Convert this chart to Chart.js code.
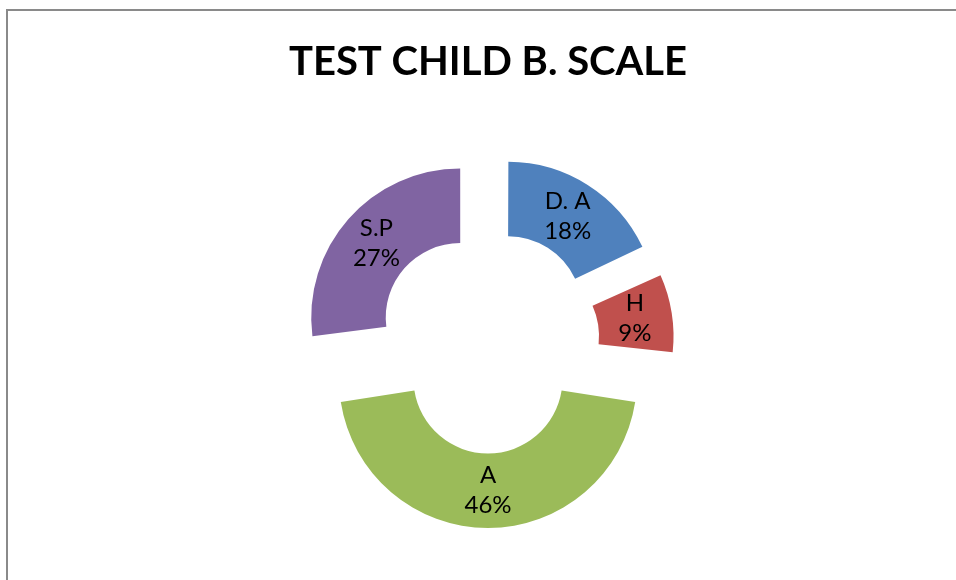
<!DOCTYPE html>
<html><head><meta charset="utf-8">
<script src="https://cdn.jsdelivr.net/npm/chart.js@4"></script>
<style>html,body{margin:0;padding:0;background:#fff;overflow:hidden;} #wrap{width:956px;height:580px;position:relative;}</style>
</head><body><div id="wrap"><canvas id="c" width="956" height="580"></canvas></div>
<script>
const titleText = 'TEST CHILD B. SCALE';
const categories = ['D. A', 'H', 'A', 'S.P'];
const percents = [18, 9, 46, 27];
const colors = ['#4F81BD', '#C0504D', '#9BBB59', '#8064A2'];
const EXPLODE = 148; // Chart.js arc offset option (actual shift = offset / 4)

const frame = {
  id: 'frame',
  beforeDraw(chart) {
    const c = chart.ctx;
    c.save();
    c.fillStyle = '#fff';
    c.fillRect(0, 0, chart.width, chart.height);
    c.strokeStyle = '#8a8a8a';
    c.lineWidth = 2;
    c.beginPath();
    c.moveTo(7, chart.height);
    c.lineTo(7, 10);
    c.lineTo(chart.width, 10);
    c.stroke();
    c.restore();
  }
};

// keep every exploded slice at the same radii (Chart.js enlarges narrow offset arcs)
const evenRadius = {
  id: 'evenRadius',
  afterDatasetUpdate(chart, args) {
    args.meta.data.forEach(arc => {
      const off = ((arc.options && arc.options.offset) || 0) / 4;
      const fix = 1 - Math.sin(Math.min(Math.PI, arc.circumference || 0));
      const ro = off * fix;
      arc.outerRadius -= ro;
      arc.innerRadius -= ro;
      arc.$ro = ro;
    });
  }
};

const sliceLabels = {
  id: 'sliceLabels',
  afterDatasetsDraw(chart) {
    const ctx = chart.ctx;
    const meta = chart.getDatasetMeta(0);
    ctx.save();
    ctx.font = '24px Lato';
    ctx.fillStyle = '#000';
    ctx.textAlign = 'center';
    ctx.textBaseline = 'middle';
    meta.data.forEach((arc, i) => {
      const half = (arc.startAngle + arc.endAngle) / 2;
      const off = ((arc.options && arc.options.offset) || 0) / 4;
      const ro = arc.$ro || 0;
      const r = (arc.innerRadius + arc.outerRadius) / 2 + ro;
      const x = arc.x + Math.cos(half) * (off + r);
      const y = arc.y + Math.sin(half) * (off + r);
      ctx.fillText(categories[i], x, y - 15);
      ctx.fillText(percents[i] + '%', x, y + 15);
    });
    ctx.restore();
  }
};

new Chart(document.getElementById('c'), {
  type: 'doughnut',
  data: {
    labels: categories,
    datasets: [{
      data: percents,
      backgroundColor: colors,
      borderWidth: 0,
      offset: EXPLODE,
      hoverOffset: EXPLODE
    }]
  },
  options: {
    responsive: false,
    animation: false,
    events: [],
    radius: 149,
    cutout: '50%',
    layout: { padding: { left: 20, right: 0, top: 0, bottom: 0 } },
    plugins: {
      legend: { display: false },
      tooltip: { enabled: false },
      title: {
        display: true,
        text: titleText,
        color: '#000',
        font: { family: 'Lato', size: 40, weight: 'bold' },
        padding: { top: 38, bottom: 18 }
      }
    }
  },
  plugins: [frame, evenRadius, sliceLabels]
});
</script>
</body></html>
